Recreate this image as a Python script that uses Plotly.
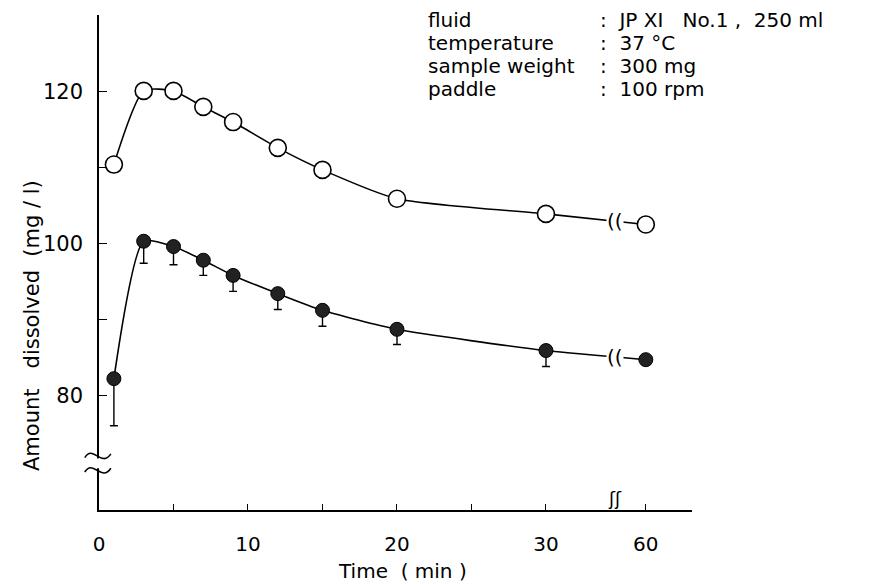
import plotly.graph_objects as go

# ---- data ----
time_min = [1, 3, 5, 7, 9, 12, 15, 20, 30, 60]
open_vals = [110.4, 120.1, 120.1, 118.0, 116.0, 112.6, 109.7, 105.9, 103.9, 102.5]
filled_vals = [82.2, 100.3, 99.6, 97.8, 95.8, 93.4, 91.2, 88.7, 85.9, 84.7]
filled_err = [6.2, 2.9, 2.4, 2.0, 2.1, 2.1, 2.1, 2.0, 2.1, 0.0]

x_tick_vals = [0, 5, 10, 15, 20, 25, 30, 60]
x_tick_text = ["0", "", "10", "", "20", "", "30", "60"]
y_tick_vals = [80, 90, 100, 110, 120, 130]
y_tick_text = ["80", "", "100", "", "120", ""]

conditions = [
    ("fluid", ":  JP XI   No.1 ,  250 ml"),
    ("temperature", ":  37 °C"),
    ("sample weight", ":  300 mg"),
    ("paddle", ":  100 rpm"),
]

# broken x axis: 60 min drawn at display position 36.7
BREAK_POS = 34.6
POS_60 = 36.7


def disp(t):
    return POS_60 if t == 60 else t


xd = [disp(t) for t in time_min]

FONT = "DejaVu Sans"
fig = go.Figure()

fig.add_trace(go.Scatter(
    x=xd, y=open_vals, mode="lines+markers",
    line=dict(color="black", width=1.6, shape="spline", smoothing=0.6),
    marker=dict(symbol="circle", size=17, color="white",
                line=dict(color="black", width=1.6)),
    showlegend=False))

fig.add_trace(go.Scatter(
    x=xd, y=filled_vals, mode="lines+markers",
    line=dict(color="black", width=1.6, shape="spline", smoothing=0.6),
    marker=dict(symbol="circle", size=14, color="#222",
                line=dict(color="black", width=1)),
    error_y=dict(type="data", symmetric=False,
                 array=[0] * len(filled_err), arrayminus=filled_err,
                 color="black", thickness=1.4, width=4),
    showlegend=False))

# break marks on the lines
i30 = time_min.index(30)
i60 = time_min.index(60)
frac = (BREAK_POS - 30) / (POS_60 - 30)
for vals in (open_vals, filled_vals):
    yb = vals[i30] + (vals[i60] - vals[i30]) * frac
    fig.add_annotation(x=BREAK_POS, y=yb, xref="x", yref="y", text="((",
                       showarrow=False, bgcolor="white", borderpad=0,
                       font=dict(family=FONT, size=20, color="black"))

# x-axis break
fig.add_annotation(x=BREAK_POS, y=0, xref="x", yref="paper", text="ʃʃ",
                   showarrow=False, bgcolor="white", borderpad=0,
                   font=dict(family=FONT, size=18, color="black"))

# y-axis break: gap in the axis with two wavy strokes
fig.add_shape(type="rect", xref="paper", yref="y", x0=-0.01, x1=0.01,
              y0=70.4, y1=71.7, fillcolor="white", line=dict(width=0),
              layer="above")
for yv in (72.0, 70.1):
    fig.add_shape(type="path", xref="paper", yref="y", layer="above",
                  path=(f"M -0.024,{yv - 0.2} C -0.01,{yv + 1.6} "
                        f"0.004,{yv - 1.6} 0.02,{yv + 0.3}"),
                  line=dict(color="black", width=1.6))

# conditions text block
W, H = 593.0, 495.0
for k, (lab, val) in enumerate(conditions):
    py = 19 + k * 23
    fig.add_annotation(x=(424 - 97) / W, y=(509 - py) / H, xref="paper",
                       yref="paper", text=lab, showarrow=False,
                       xanchor="left", yanchor="middle",
                       font=dict(family=FONT, size=20, color="black"))
    fig.add_annotation(x=(596 - 97) / W, y=(509 - py) / H, xref="paper",
                       yref="paper", text=val, showarrow=False,
                       xanchor="left", yanchor="middle",
                       font=dict(family=FONT, size=20, color="black"))

# y-axis title
fig.add_annotation(x=(30 - 97) / W, y=(509 - 325) / H, xref="paper",
                   yref="paper", text="Amount   dissolved  (mg / l)",
                   textangle=-90, showarrow=False, xanchor="center",
                   yanchor="middle",
                   font=dict(family=FONT, size=21, color="black"))

# x-axis title
fig.add_annotation(x=(400 - 97) / W, y=(509 - 570) / H, xref="paper",
                   yref="paper", text="Time  ( min )", showarrow=False,
                   xanchor="center", yanchor="middle",
                   font=dict(family=FONT, size=20, color="black"))

fig.update_layout(
    width=870, height=584,
    margin=dict(l=91, r=186, t=7, b=82),
    paper_bgcolor="white", plot_bgcolor="white",
    font=dict(family=FONT, color="black"),
    xaxis=dict(range=[0, 39.8], showgrid=False, zeroline=False,
               showline=True, linecolor="black", linewidth=1.6,
               ticks="inside", ticklen=6, tickcolor="black",
               tickvals=[disp(v) for v in x_tick_vals],
               ticktext=x_tick_text,
               ticklabelstandoff=15,
               tickfont=dict(family=FONT, size=20)),
    yaxis=dict(range=[64.9, 130.1], showgrid=False, zeroline=False,
               showline=True, linecolor="black", linewidth=1.6,
               ticks="inside", ticklen=8, tickcolor="black",
               tickvals=y_tick_vals, ticktext=y_tick_text,
               ticklabelstandoff=10,
               tickfont=dict(family=FONT, size=21)),
)

fig.write_html("out.html")
